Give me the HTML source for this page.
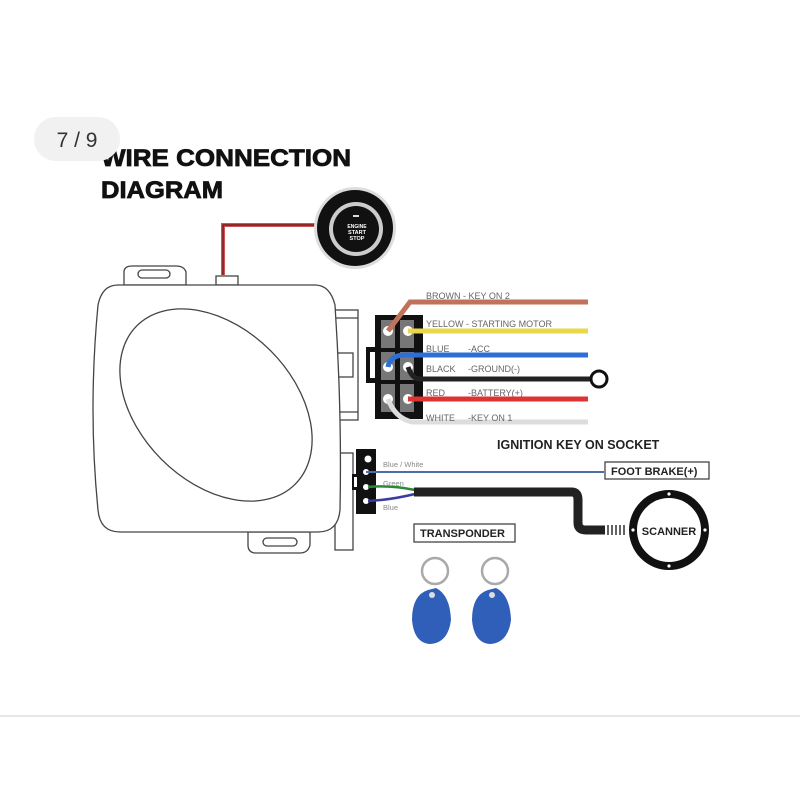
<!DOCTYPE html>
<html><head><meta charset="utf-8"><style>
html,body{margin:0;padding:0;background:#fff;width:800px;height:800px;overflow:hidden}
svg{display:block}
text{font-family:"Liberation Sans",Arial,sans-serif}
</style></head><body>
<svg width="800" height="800" viewBox="0 0 800 800" xmlns="http://www.w3.org/2000/svg">
<rect width="800" height="800" fill="#fff"/>
<line x1="0" y1="716" x2="800" y2="716" stroke="#ccc" stroke-width="1"/>
<text x="101" y="166" font-size="24" font-weight="bold" fill="#111" stroke="#111" stroke-width="0.8" textLength="250" lengthAdjust="spacingAndGlyphs">WIRE CONNECTION</text>
<text x="101" y="198" font-size="24" font-weight="bold" fill="#111" stroke="#111" stroke-width="0.8" textLength="122" lengthAdjust="spacingAndGlyphs">DIAGRAM</text>
<!-- page badge -->
<rect x="34" y="117" width="86" height="44" rx="22" fill="#f1f1f1"/>
<text x="77" y="147" font-size="21" text-anchor="middle" fill="#333">7 / 9</text>
<!-- wire to start button -->
<path d="M223,275 V225 H320" fill="none" stroke="#c55" stroke-width="4"/>
<path d="M223,275 V225 H320" fill="none" stroke="#611" stroke-width="1.2"/>
<!-- start button -->
<circle cx="355" cy="228" r="41" fill="#ddd"/>
<circle cx="355" cy="228" r="38" fill="#111"/>
<circle cx="356" cy="229" r="27" fill="#ccc"/>
<circle cx="356" cy="229" r="23" fill="#111"/>
<rect x="353" y="215" width="6" height="2" fill="#ddd"/>
<text x="357" y="228" font-size="5" fill="#fff" text-anchor="middle" font-weight="bold">ENGINE</text>
<text x="357" y="234" font-size="5.5" fill="#fff" text-anchor="middle" font-weight="bold">START</text>
<text x="357" y="240" font-size="5.5" fill="#fff" text-anchor="middle" font-weight="bold">STOP</text>
<!-- module -->
<g fill="#fff" stroke="#444" stroke-width="1.3">
<path d="M124,285 V272 Q124,266 132,266 H176 Q184,266 186,272 V285 Z"/>
<rect x="138" y="270" width="32" height="8" rx="4"/>
<rect x="216" y="276" width="22" height="9"/>
<path d="M248,532 V545 Q248,553 256,553 H300 Q308,553 310,545 V532 Z"/>
<rect x="263" y="538" width="34" height="8" rx="4"/>
<rect x="330" y="310" width="28" height="110"/>
<line x1="330" y1="318" x2="358" y2="318"/><line x1="330" y1="412" x2="358" y2="412"/>
<rect x="337" y="353" width="16" height="24"/>
<rect x="335" y="453" width="18" height="97"/>
<path d="M118,285 H315 Q330,285 335,305 Q342,410 340,510 Q338,532 318,532 H120 Q100,532 98,510 Q88,410 98,305 Q102,285 118,285 Z"/>
<ellipse cx="216" cy="405" rx="112" ry="77" transform="rotate(45 216 405)"/>
</g>
<!-- connector 1 -->
<rect x="375" y="315" width="48" height="104" fill="#111"/>
<rect x="366" y="347" width="12" height="36" fill="#111"/>
<rect x="370" y="352" width="5" height="26" fill="#fff"/>
<g fill="#777">
<rect x="381" y="320" width="14" height="28"/><rect x="400" y="320" width="14" height="28"/>
<rect x="381" y="352" width="14" height="28"/><rect x="400" y="352" width="14" height="28"/>
<rect x="381" y="384" width="14" height="28"/><rect x="400" y="384" width="14" height="28"/>
</g>
<g fill="#fff"><circle cx="388" cy="331" r="5"/><circle cx="408" cy="331" r="5"/><circle cx="388" cy="367" r="5"/><circle cx="408" cy="367" r="5"/><circle cx="388" cy="399" r="5"/><circle cx="408" cy="399" r="5"/></g>
<!-- wires -->
<g fill="none" stroke-width="5">
<path d="M388,331 L410,302 H588" stroke="#c0735a"/>
<path d="M408,331 H588" stroke="#e8d84a"/>
<path d="M388,367 Q390,355 405,355 H588" stroke="#2d6fd6"/>
<path d="M408,367 Q412,379 420,379 H590" stroke="#222"/>
<path d="M408,399 H588" stroke="#d33"/>
<path d="M388,399 Q395,418 412,422 H588" stroke="#ddd"/>
</g>
<circle cx="599" cy="379" r="8" fill="#fff" stroke="#111" stroke-width="3"/>
<g font-size="9" fill="#666">
<text x="426" y="299">BROWN - KEY ON 2</text>
<text x="426" y="327">YELLOW - STARTING MOTOR</text>
<text x="426" y="352">BLUE</text><text x="468" y="352">-ACC</text>
<text x="426" y="372">BLACK</text><text x="468" y="372">-GROUND(-)</text>
<text x="426" y="396">RED</text><text x="468" y="396">-BATTERY(+)</text>
<text x="426" y="421">WHITE</text><text x="468" y="421">-KEY ON 1</text>
</g>
<text x="497" y="449" font-size="12.5" font-weight="bold" fill="#222">IGNITION KEY ON SOCKET</text>
<!-- connector 2 -->
<rect x="356" y="449" width="20" height="65" fill="#111"/>
<rect x="352" y="474" width="6" height="16" fill="#111"/><rect x="354" y="477" width="3" height="10" fill="#fff"/>
<circle cx="368" cy="459" r="3.5" fill="#fff"/>
<circle cx="366" cy="472" r="3" fill="#fff"/><circle cx="366" cy="487" r="3" fill="#fff"/><circle cx="366" cy="501" r="3" fill="#fff"/>
<path d="M366,472 H604" stroke="#4a6fa8" stroke-width="2" fill="none"/>
<path d="M368,487 Q390,485 415,490" stroke="#2a8a3a" stroke-width="2.5" fill="none"/>
<path d="M368,501 Q390,500 415,494" stroke="#3a3aa0" stroke-width="2.5" fill="none"/>
<path d="M414,492 H572 Q578,492 578,500 V523 Q578,530 586,530 H605" stroke="#222" stroke-width="9" fill="none"/>
<g stroke="#111" stroke-width="1.3"><line x1="608" y1="525" x2="608" y2="535"/><line x1="612" y1="525" x2="612" y2="535"/><line x1="616" y1="525" x2="616" y2="535"/><line x1="620" y1="525" x2="620" y2="535"/><line x1="624" y1="525" x2="624" y2="535"/></g>
<g font-size="7.5" fill="#888"><text x="383" y="467">Blue / White</text><text x="383" y="486">Green</text><text x="383" y="510">Blue</text></g>
<rect x="605" y="462" width="104" height="17" fill="#fff" stroke="#444" stroke-width="1.3"/>
<text x="611" y="475" font-size="11" font-weight="bold" fill="#222">FOOT BRAKE(+)</text>
<circle cx="669" cy="530" r="36" fill="#fff" stroke="#111" stroke-width="8"/>
<g fill="#fff"><circle cx="669" cy="494" r="1.6"/><circle cx="669" cy="566" r="1.6"/><circle cx="633" cy="530" r="1.6"/><circle cx="705" cy="530" r="1.6"/></g>
<text x="669" y="535" font-size="11" font-weight="bold" fill="#222" text-anchor="middle">SCANNER</text>
<rect x="414" y="524" width="101" height="18" fill="#fff" stroke="#444" stroke-width="1.3"/>
<text x="420" y="537" font-size="11" font-weight="bold" fill="#222">TRANSPONDER</text>
<!-- key fobs -->
<g>
<circle cx="435" cy="571" r="13" fill="none" stroke="#aaa" stroke-width="2.5"/>
<path d="M428,590 Q412,595 412,620 Q414,643 430,644 Q448,643 451,620 Q450,595 436,588 Z" fill="#2f5fb8"/>
<circle cx="432" cy="595" r="3" fill="#ddd"/>
<circle cx="495" cy="571" r="13" fill="none" stroke="#aaa" stroke-width="2.5"/>
<path d="M488,590 Q472,595 472,620 Q474,643 490,644 Q508,643 511,620 Q510,595 496,588 Z" fill="#2f5fb8"/>
<circle cx="492" cy="595" r="3" fill="#ddd"/>
</g>
</svg>
</body></html>
